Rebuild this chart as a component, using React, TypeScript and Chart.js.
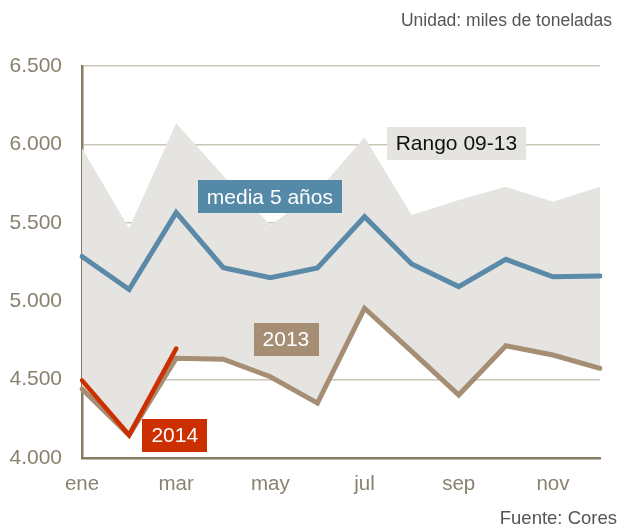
import React, { useEffect, useRef } from "react";
import { Chart, registerables } from "chart.js";

Chart.register(...registerables);

const months = ["ene", "feb", "mar", "abr", "may", "jun", "jul", "ago", "sep", "oct", "nov", "dic"];
const rangeHigh = [5975, 5465, 6135, 5800, 5486, 5700, 6045, 5550, 5645, 5730, 5635, 5730];
const rangeLow = [4440, 4145, 4636, 4630, 4518, 4350, 4955, 4680, 4402, 4716, 4657, 4572];
const media5 = [5285, 5075, 5565, 5214, 5150, 5212, 5539, 5237, 5093, 5267, 5156, 5160];
const y2013 = [4440, 4145, 4636, 4630, 4518, 4350, 4955, 4680, 4402, 4716, 4657, 4572];
const y2014 = [4495, 4147, 4698, null, null, null, null, null, null, null, null, null];
const yTicks = [4000, 4500, 5000, 5500, 6000, 6500];

const FONT = "'Liberation Sans', Arial, Helvetica, sans-serif";
const C_BLUE = "#5a8aa8";
const C_BLUE_BOX = "#5589a8";
const C_TAN = "#a58e73";
const C_RED = "#cc2f00";
const C_RANGE = "#e6e4e0";
const C_AXIS = "#867b63";
const C_GRID = "#ccc6b8";
const C_TICK = "#8a8270";

const labelBoxes = [
  { text: "media 5 años", x: 3.99, y: 5666, bg: C_BLUE_BOX, color: "#ffffff" },
  { text: "Rango 09-13", x: 7.95, y: 6007, bg: C_RANGE, color: "#111111" },
  { text: "2013", x: 4.33, y: 4756, bg: C_TAN, color: "#ffffff" },
  { text: "2014", x: 1.97, y: 4145, bg: C_RED, color: "#ffffff" },
];

function fmt(v: number): string {
  const s = Math.round(v).toString();
  return s.length > 3 ? s.slice(0, s.length - 3) + "." + s.slice(s.length - 3) : s;
}

const annotPlugin = {
  id: "annot",
  afterDatasetsDraw(chart: any) {
    const { ctx, scales } = chart;
    const xs = scales.x;
    const ys = scales.y;
    ctx.save();
    ctx.font = `21px ${FONT}`;
    ctx.textAlign = "center";
    ctx.textBaseline = "middle";
    for (const b of labelBoxes) {
      const left0 = xs.getPixelForValue(Math.floor(b.x));
      const right0 = xs.getPixelForValue(Math.floor(b.x) + 1);
      const cx = left0 + (right0 - left0) * (b.x - Math.floor(b.x));
      const cy = ys.getPixelForValue(b.y);
      const w = ctx.measureText(b.text).width + 18;
      const h = 33;
      ctx.fillStyle = b.bg;
      ctx.fillRect(Math.round(cx - w / 2), Math.round(cy - h / 2), Math.round(w), h);
      ctx.fillStyle = b.color;
      ctx.fillText(b.text, cx, cy + 1);
    }
    ctx.restore();
  },
  afterDraw(chart: any) {
    const { ctx } = chart;
    ctx.save();
    ctx.font = `17.5px ${FONT}`;
    ctx.fillStyle = "#555555";
    ctx.textAlign = "right";
    ctx.textBaseline = "middle";
    ctx.fillText("Unidad: miles de toneladas", 612, 21);
    ctx.font = `18.5px ${FONT}`;
    ctx.fillText("Fuente: Cores", 617, 519);
    ctx.restore();
  },
};

export default function App() {
  const ref = useRef<HTMLCanvasElement | null>(null);
  useEffect(() => {
    document.body.style.margin = "0";
    if (!ref.current) return;
    const lineBase = {
      pointRadius: 0,
      pointHoverRadius: 0,
      tension: 0,
      borderJoinStyle: "miter" as const,
      borderCapStyle: "round" as const,
    };
    const chart = new Chart(ref.current, {
      type: "line",
      data: {
        labels: months,
        datasets: [
          { ...lineBase, label: "2014", data: y2014, borderColor: C_RED, borderWidth: 4.5, fill: false, spanGaps: false },
          { ...lineBase, label: "media 5 años", data: media5, borderColor: C_BLUE, borderWidth: 5, fill: false },
          { ...lineBase, label: "2013", data: y2013, borderColor: C_TAN, borderWidth: 5, fill: false },
          { ...lineBase, label: "Rango max", data: rangeHigh, borderWidth: 0, borderColor: "rgba(0,0,0,0)", backgroundColor: C_RANGE, fill: "+1" },
          { ...lineBase, label: "Rango min", data: rangeLow, borderWidth: 0, borderColor: "rgba(0,0,0,0)", fill: false },
        ],
      },
      options: {
        animation: false,
        responsive: false,
        events: [],
        layout: { padding: { top: 66, right: 24, bottom: 0, left: 0 } },
        plugins: { legend: { display: false }, tooltip: { enabled: false }, title: { display: false } },
        scales: {
          x: {
            type: "category",
            offset: false,
            grid: { display: false, drawTicks: false },
            border: { display: true, color: C_AXIS, width: 2.5 },
            ticks: {
              autoSkip: false,
              maxRotation: 0,
              padding: 14,
              color: C_TICK,
              font: { family: FONT, size: 20.5 },
              callback: (_v: any, i: number) => (i % 2 === 0 ? months[i] : ""),
            },
            afterFit: (s: any) => { s.height = 69; },
          },
          y: {
            min: 4000,
            max: 6500,
            afterBuildTicks: (s: any) => { s.ticks = yTicks.map((v) => ({ value: v })); },
            grid: { color: C_GRID, lineWidth: 1.5, drawTicks: false },
            border: { display: true, color: C_AXIS, width: 2.5 },
            ticks: {
              padding: 20,
              color: C_TICK,
              font: { family: FONT, size: 21 },
              callback: (v: any) => fmt(Number(v)),
            },
            afterFit: (s: any) => { s.width = 82; },
          },
        },
      },
      plugins: [annotPlugin],
    });
    return () => chart.destroy();
  }, []);
  return (
    <div style={{ width: 624, height: 527 }}>
      <canvas ref={ref} width={624} height={527} style={{ display: "block" }} />
    </div>
  );
}
